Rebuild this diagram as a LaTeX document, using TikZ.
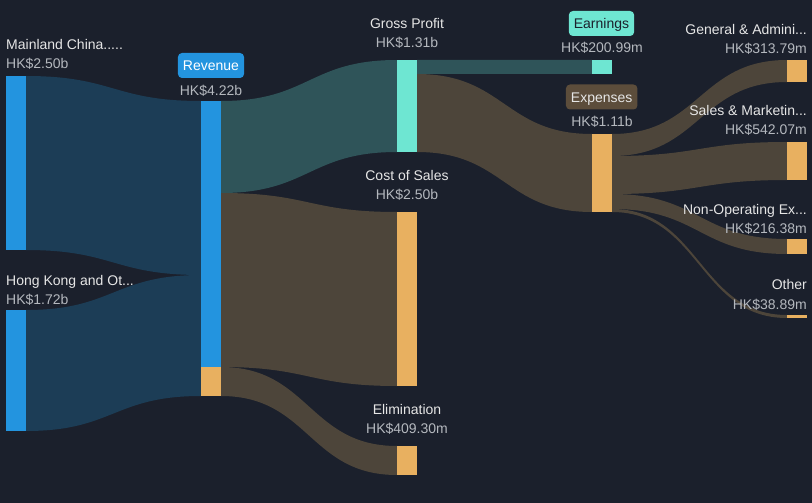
\documentclass[tikz,border=0pt]{standalone}
\usepackage{fontspec}
\setmainfont{Liberation Sans}
\usetikzlibrary{calc}
\definecolor{bg}{HTML}{1B202C}
\definecolor{barblue}{HTML}{2394DF}
\definecolor{flowblue}{HTML}{1C3D56}
\definecolor{barteal}{HTML}{6EE6D2}
\definecolor{flowteal}{HTML}{2F5459}
\definecolor{barorange}{HTML}{E8B060}
\definecolor{flowbrown}{HTML}{4D453A}
\definecolor{expbox}{HTML}{5C4D3B}
\definecolor{namecol}{HTML}{E6E6E6}
\definecolor{valcol}{HTML}{B4B8BE}
\pgfdeclarelayer{back}
\pgfdeclarelayer{flows}
\pgfsetlayers{back,flows,main}
\newcommand\sflow[6]{%
 \fill[#6] let \p1=(#1.north east), \p2=(#3.north west) in
 (\x1,{\y1-#2pt}) .. controls ({(\x1+\x2)/2},{\y1-#2pt}) and ({(\x1+\x2)/2},{\y2-#4pt}) .. (\x2,{\y2-#4pt})
 -- (\x2,{\y2-#4pt-#5pt}) .. controls ({(\x1+\x2)/2},{\y2-#4pt-#5pt}) and ({(\x1+\x2)/2},{\y1-#2pt-#5pt}) .. (\x1,{\y1-#2pt-#5pt}) -- cycle;}
\begin{document}
\begin{tikzpicture}[x=1pt,y=-1pt,
 sbar/.style={rectangle, inner sep=0pt, outer sep=0pt, minimum width=20pt, draw=none},
 nmtext/.style={inner sep=0pt, text=namecol, font=\fontsize{14}{16}\selectfont},
 valtext/.style={inner sep=0pt, text=valcol, font=\fontsize{14}{16}\selectfont},
 tagbox/.style={rounded corners=4pt, inner xsep=5pt, inner ysep=0pt, minimum height=25pt, text height=10.2pt, text depth=0pt, font=\fontsize{14}{16}\selectfont}]
\begin{pgfonlayer}{back}
\fill[bg] (0,0) rectangle (812,503);
\end{pgfonlayer}
\useasboundingbox (0,0) rectangle (812,503);
% bars
\node[sbar, fill=barblue, minimum height=174pt] (mc) at (16,163) {};
\node[sbar, fill=barblue, minimum height=121pt] (hk) at (16,370.5) {};
\node[sbar, fill=barblue, minimum height=266pt] (rev) at (211,234) {};
\node[sbar, fill=barorange, minimum height=29pt] (revx) at (211,381.5) {};
\node[sbar, fill=barteal, minimum height=92pt] (gp) at (407,106) {};
\node[sbar, fill=barorange, minimum height=174pt] (cos) at (407,299) {};
\node[sbar, fill=barorange, minimum height=29pt] (elim) at (407,460.5) {};
\node[sbar, fill=barteal, minimum height=14pt] (earn) at (602,67) {};
\node[sbar, fill=barorange, minimum height=78pt] (exp) at (602,173) {};
\node[sbar, fill=barorange, minimum height=22pt] (ga) at (797,71) {};
\node[sbar, fill=barorange, minimum height=38pt] (sm) at (797,161) {};
\node[sbar, fill=barorange, minimum height=15pt] (nonop) at (797,246.5) {};
\node[sbar, fill=barorange, minimum height=3pt] (oth) at (797,316.5) {};
% flows
\begin{pgfonlayer}{flows}
\sflow{mc}{0}{rev}{0}{174}{flowblue}
\sflow{hk}{0}{rev}{174}{121}{flowblue}
\sflow{rev}{0}{gp}{0}{92}{flowteal}
\sflow{rev}{92}{cos}{0}{174}{flowbrown}
\sflow{rev}{266}{elim}{0}{29}{flowbrown}
\sflow{gp}{0}{earn}{0}{14}{flowteal}
\sflow{gp}{14}{exp}{0}{78}{flowbrown}
\sflow{exp}{0}{ga}{0}{22}{flowbrown}
\sflow{exp}{22}{sm}{0}{38}{flowbrown}
\sflow{exp}{60}{nonop}{0}{15}{flowbrown}
\sflow{exp}{75}{oth}{0}{3}{flowbrown}
\end{pgfonlayer}
% labels
\node[nmtext, anchor=base west] (mcname) at (6,50) {Mainland China.....};
\node[valtext, anchor=base west] (mcval) at (6,69) {HK\$2.50b};
\node[nmtext, anchor=base west] (hkname) at (6,285) {Hong Kong and Ot...};
\node[valtext, anchor=base west] (hkval) at (6,304.3) {HK\$1.72b};
\node[tagbox, fill=barblue, text=white] (revtag) at (211,65.5) {Revenue};
\node[valtext, anchor=base] (revval) at (211,95.7) {HK\$4.22b};
\node[nmtext, anchor=base] (gpname) at (407,28.3) {Gross Profit};
\node[valtext, anchor=base] (gpval) at (407,47.7) {HK\$1.31b};
\node[nmtext, anchor=base] (cosname) at (407,180) {Cost of Sales};
\node[valtext, anchor=base] (cosval) at (407,199) {HK\$2.50b};
\node[nmtext, anchor=base] (elimname) at (407,414.3) {Elimination};
\node[valtext, anchor=base] (elimval) at (407,433.3) {HK\$409.30m};
\node[tagbox, fill=barteal, text=bg] (earntag) at (601.5,23.5) {Earnings};
\node[valtext, anchor=base] (earnval) at (602,53) {HK\$200.99m};
\node[tagbox, fill=expbox, text=namecol] (exptag) at (601.7,97) {Expenses};
\node[valtext, anchor=base] (expval) at (602,126.7) {HK\$1.11b};
\node[nmtext, anchor=base east] (ganame) at (807,34.3) {General \& Admini...};
\node[valtext, anchor=base east] (gaval) at (807,53.3) {HK\$313.79m};
\node[nmtext, anchor=base east] (smname) at (807,116) {Sales \& Marketin...};
\node[valtext, anchor=base east] (smval) at (807,135) {HK\$542.07m};
\node[nmtext, anchor=base east] (noname) at (807,214.3) {Non-Operating Ex...};
\node[valtext, anchor=base east] (noval) at (807,233.3) {HK\$216.38m};
\node[nmtext, anchor=base east] (othname) at (807,289.3) {Other};
\node[valtext, anchor=base east] (othval) at (807,309) {HK\$38.89m};
\end{tikzpicture}
\end{document}
